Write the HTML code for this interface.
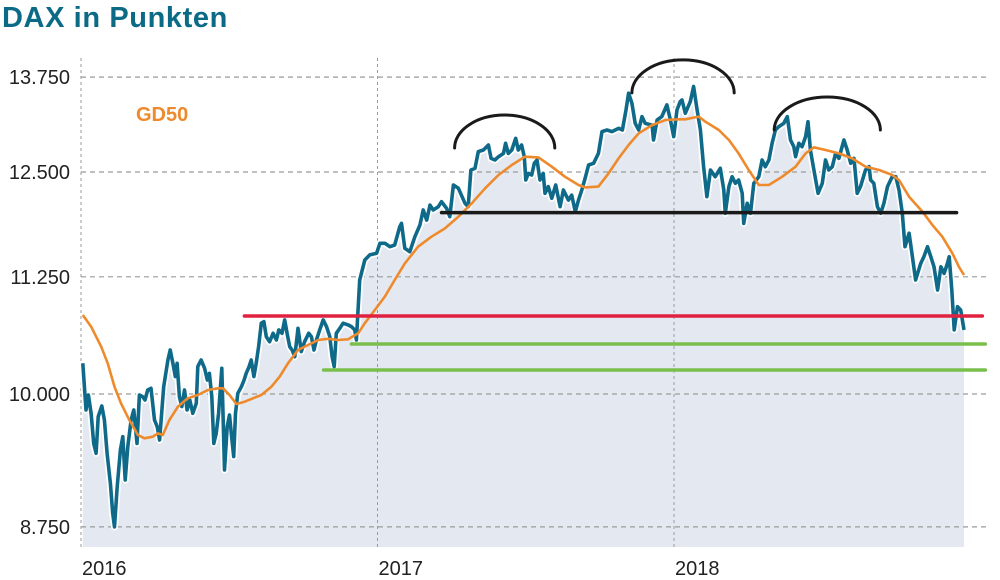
<!DOCTYPE html>
<html><head><meta charset="utf-8">
<style>
html,body{margin:0;padding:0;background:#fff;}
svg{display:block;font-family:"Liberation Sans","DejaVu Sans",sans-serif;}
</style></head>
<body>
<svg id="chart" width="1000" height="580" viewBox="0 0 1000 580">
<text x="2" y="27" font-size="29" font-weight="bold" fill="#0b6a86" letter-spacing="0.6">DAX in Punkten</text>
<g id="grid"></g>
<g id="marks"></g>
<text x="136" y="121" font-size="20" font-weight="bold" fill="#ef8a2c">GD50</text>
</svg>
<script>
const yTicks=[8750,10000,11250,12500,13750];
const yTickLabels=["8.750","10.000","11.250","12.500","13.750"];
const xTicks=[2016,2017,2018];
const xTickLabels=["2016","2017","2018"];
const priceT=[2016.006,2016.017,2016.025,2016.034,2016.043,2016.051,2016.058,2016.070,2016.079,2016.088,2016.099,2016.107,2016.113,2016.122,2016.133,2016.141,2016.149,2016.158,2016.169,2016.178,2016.189,2016.197,2016.208,2016.216,2016.225,2016.236,2016.248,2016.257,2016.265,2016.279,2016.293,2016.301,2016.310,2016.318,2016.324,2016.332,2016.340,2016.349,2016.358,2016.367,2016.377,2016.389,2016.394,2016.405,2016.417,2016.426,2016.433,2016.441,2016.448,2016.456,2016.464,2016.475,2016.479,2016.484,2016.493,2016.501,2016.507,2016.515,2016.521,2016.529,2016.541,2016.550,2016.557,2016.567,2016.574,2016.583,2016.591,2016.599,2016.608,2016.617,2016.625,2016.636,2016.648,2016.659,2016.667,2016.678,2016.687,2016.696,2016.704,2016.712,2016.721,2016.732,2016.743,2016.754,2016.768,2016.777,2016.786,2016.794,2016.805,2016.817,2016.828,2016.839,2016.847,2016.854,2016.861,2016.873,2016.884,2016.901,2016.912,2016.923,2016.929,2016.940,2016.957,2016.974,2016.997,2017.008,2017.025,2017.042,2017.058,2017.075,2017.081,2017.092,2017.109,2017.126,2017.143,2017.154,2017.166,2017.177,2017.188,2017.205,2017.216,2017.233,2017.244,2017.256,2017.273,2017.295,2017.306,2017.315,2017.329,2017.340,2017.357,2017.374,2017.383,2017.396,2017.408,2017.425,2017.432,2017.441,2017.453,2017.466,2017.475,2017.486,2017.495,2017.500,2017.509,2017.520,2017.529,2017.538,2017.548,2017.559,2017.565,2017.576,2017.588,2017.601,2017.616,2017.627,2017.644,2017.655,2017.667,2017.678,2017.689,2017.700,2017.712,2017.729,2017.745,2017.757,2017.774,2017.791,2017.813,2017.826,2017.838,2017.847,2017.858,2017.869,2017.881,2017.892,2017.903,2017.926,2017.931,2017.943,2017.959,2017.976,2017.988,2017.999,2018.010,2018.021,2018.027,2018.038,2018.055,2018.066,2018.078,2018.089,2018.100,2018.111,2018.123,2018.139,2018.156,2018.168,2018.173,2018.185,2018.196,2018.207,2018.218,2018.230,2018.235,2018.247,2018.258,2018.269,2018.286,2018.297,2018.308,2018.320,2018.331,2018.342,2018.353,2018.370,2018.382,2018.393,2018.404,2018.410,2018.421,2018.432,2018.444,2018.452,2018.460,2018.472,2018.486,2018.500,2018.511,2018.522,2018.534,2018.545,2018.556,2018.573,2018.584,2018.596,2018.607,2018.618,2018.629,2018.646,2018.658,2018.663,2018.674,2018.686,2018.697,2018.708,2018.720,2018.736,2018.748,2018.759,2018.770,2018.779,2018.793,2018.804,2018.815,2018.832,2018.843,2018.855,2018.866,2018.877,2018.889,2018.900,2018.911,2018.922,2018.928,2018.937,2018.945,2018.956,2018.967,2018.978];
const priceV=[10313,9840,9990,9808,9516,9421,9774,9880,9742,9421,9140,8870,8750,9110,9453,9580,9172,9485,9742,9840,9516,9990,9973,9940,10040,10057,9742,9677,9548,10074,10348,10452,10313,10176,10313,9973,9874,10040,9840,9940,9808,9907,10279,10348,10262,10142,10210,9973,9516,9612,9808,10262,9808,9265,9677,9791,9612,9390,9808,10007,10074,10142,10210,10279,10348,10176,10313,10487,10737,10755,10593,10540,10629,10558,10665,10629,10773,10611,10487,10452,10382,10683,10435,10540,10629,10593,10452,10558,10665,10773,10701,10593,10382,10279,10629,10683,10737,10719,10701,10665,10558,11214,11442,11500,11519,11635,11635,11596,11615,11830,11870,11577,11538,11713,11850,12031,11910,12091,12031,12071,12132,12051,11950,12337,12296,12112,12071,12525,12546,12759,12779,12844,12672,12651,12693,12736,12865,12736,12779,12930,12779,12844,12693,12399,12482,12462,12609,12651,12399,12482,12235,12317,12173,12337,12071,12275,12152,12213,12011,12152,12275,12420,12588,12609,12736,13017,13039,13017,13061,13039,13304,13530,13394,13125,13039,13215,13125,13103,12908,13170,13215,13371,13170,12952,13304,13416,13438,13259,13416,13621,13304,13039,12567,12193,12525,12441,12546,12275,11992,12317,12441,12358,12399,12235,11870,12112,11992,12358,12441,12651,12567,12651,12865,13039,13082,13125,13215,12908,12822,12693,12865,12822,12952,13148,12779,12525,12235,12358,12651,12525,12567,12736,12672,12908,12779,12609,12672,12235,12317,12525,12567,12399,12358,12071,11992,12112,12317,12441,12441,12275,11992,11596,11754,11480,11214,11402,11480,11596,11480,11364,11102,11364,11289,11402,11480,11102,10665,10917,10881,10665];
const gdT=[2016.006,2016.034,2016.068,2016.090,2016.113,2016.135,2016.163,2016.192,2016.214,2016.242,2016.259,2016.276,2016.298,2016.327,2016.360,2016.394,2016.428,2016.462,2016.479,2016.501,2016.524,2016.552,2016.580,2016.608,2016.642,2016.670,2016.698,2016.732,2016.766,2016.800,2016.833,2016.867,2016.901,2016.935,2016.957,2016.991,2017.025,2017.058,2017.092,2017.137,2017.182,2017.227,2017.273,2017.318,2017.363,2017.408,2017.453,2017.497,2017.543,2017.588,2017.632,2017.678,2017.700,2017.745,2017.779,2017.813,2017.847,2017.881,2017.926,2017.971,2018.016,2018.038,2018.083,2018.106,2018.151,2018.185,2018.218,2018.252,2018.286,2018.320,2018.365,2018.410,2018.444,2018.472,2018.511,2018.556,2018.601,2018.646,2018.692,2018.736,2018.759,2018.793,2018.838,2018.872,2018.905,2018.939,2018.961,2018.978];
const gdV=[10826,10701,10487,10313,10074,9907,9742,9596,9565,9580,9612,9596,9742,9874,9957,9990,10040,10057,10057,9990,9900,9923,9957,9990,10074,10176,10313,10452,10505,10558,10570,10558,10565,10629,10737,10881,11030,11214,11402,11596,11713,11810,11950,12112,12296,12462,12588,12693,12685,12567,12441,12337,12308,12317,12482,12672,12844,12996,13103,13170,13179,13179,13215,13148,13039,12908,12736,12525,12337,12337,12441,12567,12736,12814,12779,12736,12672,12567,12525,12462,12399,12193,12011,11850,11713,11519,11364,11270];
const levelNames=["black-resistance-line","red-support-line","green-support-line-1","green-support-line-2"];
const levelValues=[12000,10815,10515,10244];
const levelStart=[2017.216,2016.551,2016.912,2016.818];
const levelEnd=[2018.953,2019.040,2019.050,2019.050];
const levelColors=["#1a1a1a","#e0213f","#79bf4c","#79bf4c"];
const arcStart=[2017.260,2017.858,2018.338];const arcEnd=[2017.598,2018.203,2018.696];const arcTop=[13236,13990,13478];

const X0=81,PX=296.5;
function xs(t){return X0+(t-2016)*PX;}
function ys(v){return 394-Math.log(v/10000)*995;}
const NS="http://www.w3.org/2000/svg";
const grid=document.getElementById('grid'),marks=document.getElementById('marks');
function mk(tag,attrs,parent){const e=document.createElementNS(NS,tag);for(const k in attrs)e.setAttribute(k,attrs[k]);parent.appendChild(e);return e;}
const BOTTOM=547;
let ad="M"+xs(priceT[0])+","+BOTTOM;
priceT.forEach((t,i)=>{ad+=" L"+xs(t).toFixed(1)+","+ys(priceV[i]).toFixed(1);});
ad+=" L"+xs(priceT[priceT.length-1]).toFixed(1)+","+BOTTOM+" Z";
const area=mk('path',{d:ad,fill:"#e4e9f1"},grid);


yTicks.forEach((v,i)=>{
 const l=mk('line',{x1:X0,x2:988,y1:ys(v),y2:ys(v),stroke:"#9a9a9a","stroke-width":1.2,"stroke-dasharray":"5,4"},grid);
 
 
 const tx=mk('text',{x:70,y:ys(v)+7,"text-anchor":"end","font-size":20,fill:"#222"},grid);
 tx.textContent=yTickLabels[i];
 
 
});
xTicks.forEach((t,i)=>{
 const l=mk('line',{x1:xs(t),x2:xs(t),y1:58,y2:BOTTOM,stroke:"#9a9a9a","stroke-width":1,"stroke-dasharray":"3,3"},grid);
 
 
 const tx=mk('text',{x:xs(t)+1,y:575,"font-size":20,fill:"#222"},grid);
 tx.textContent=xTickLabels[i];
 
 
});
const pts=priceT.map((t,i)=>xs(t).toFixed(1)+","+ys(priceV[i]).toFixed(1)).join(" ");
const halo=mk('polyline',{points:pts,fill:"none",stroke:"#fff","stroke-width":7,"stroke-linejoin":"round"},marks);


const pl=mk('polyline',{points:pts,fill:"none",stroke:"#0f6a8a","stroke-width":3.6,"stroke-linejoin":"round"},marks);


const gpts=gdT.map((t,i)=>xs(t).toFixed(1)+","+ys(gdV[i]).toFixed(1)).join(" ");
const gl=mk('polyline',{points:gpts,fill:"none",stroke:"#ef8a2c","stroke-width":2.6,"stroke-linejoin":"round"},marks);


levelValues.forEach((v,i)=>{
 const l=mk('line',{x1:xs(levelStart[i]),x2:xs(levelEnd[i]),y1:ys(v),y2:ys(v),stroke:levelColors[i],"stroke-width":3.5,"stroke-linecap":"round"},marks);
 
 
});
arcStart.forEach((s,i)=>{
 const x1=xs(s),x2=xs(arcEnd[i]),yt=ys(arcTop[i]);
 const rx=(x2-x1)/2,ry=33;
 const yb=yt+ry;
 const a=mk('path',{d:`M${x1},${yb} A${rx},${ry} 0 0 1 ${x2},${yb}`,fill:"none",stroke:"#1a1a1a","stroke-width":3,"stroke-linecap":"round"},marks);
 
 
});
</script>
</body></html>
